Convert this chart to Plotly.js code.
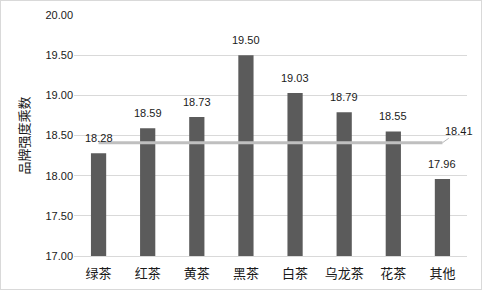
<!DOCTYPE html>
<html><head><meta charset="utf-8">
<script src="https://cdn.plot.ly/plotly-3.0.1.min.js"></script>
<style>
html,body{margin:0;padding:0;background:#fff;}
#chart{width:480px;height:288px;border:1px solid #d9d9d9;}
</style></head>
<body><div id="chart"></div>
<script>
const categories = ['绿茶','红茶','黄茶','黑茶','白茶','乌龙茶','花茶','其他'];
const values = [18.28, 18.59, 18.73, 19.50, 19.03, 18.79, 18.55, 17.96];
const average = 18.41;
const yTicks = [17.0, 17.5, 18.0, 18.5, 19.0, 19.5, 20.0];

const font = "'Liberation Sans', 'Noto Sans CJK SC', sans-serif";
const cjk = "'Noto Sans CJK SC', sans-serif";

const bars = {
  type: 'bar', x: categories, y: values, width: 0.31,
  marker: {color: '#5b5b5b'}, hoverinfo: 'skip'
};
const avgLine = {
  type: 'scatter', mode: 'lines',
  x: [categories[0], categories[categories.length-1]],
  y: [average, average],
  line: {color: '#bfbfbf', width: 3}, hoverinfo: 'skip'
};

const annotations = values.map((v, i) => ({
  x: categories[i], y: v, text: v.toFixed(2), showarrow: false,
  yanchor: 'bottom', yshift: 7, font: {family: font, size: 11, color: '#1a1a1a'}
}));
annotations.push({
  x: categories[categories.length-1], y: average, text: average.toFixed(2),
  showarrow: true, arrowhead: 0, arrowwidth: 0.8, arrowcolor: '#a6a6a6',
  ax: 17, ay: -12, standoff: 0,
  font: {family: font, size: 11, color: '#1a1a1a'}
});

const layout = {
  width: 480, height: 288,
  margin: {l: 73, r: 14, t: 14, b: 33, autoexpand: false},
  paper_bgcolor: '#fff', plot_bgcolor: '#fff',
  showlegend: false,
  xaxis: {
    type: 'category', range: [-0.5, categories.length - 0.5], autorange: false,
    showline: true, linecolor: '#d9d9d9', linewidth: 1,
    ticks: '', ticklabelstandoff: 5, automargin: false,
    tickfont: {family: cjk, size: 13, color: '#1a1a1a'}, fixedrange: true
  },
  yaxis: {
    range: [17, 20], tickvals: yTicks, ticktext: yTicks.map(t => t.toFixed(2)),
    showgrid: true, gridcolor: '#d9d9d9', gridwidth: 1, zeroline: false,
    showline: false, ticks: '', ticklen: 0, automargin: false,
    tickfont: {family: font, size: 11, color: '#1a1a1a'},
    title: {text: '品牌强度乘数', font: {family: cjk, size: 13, color: '#1a1a1a'}, standoff: 12},
    fixedrange: true
  },
  annotations: annotations
};

Plotly.newPlot('chart', [bars, avgLine], layout, {displayModeBar: false, staticPlot: true});
</script></body></html>
